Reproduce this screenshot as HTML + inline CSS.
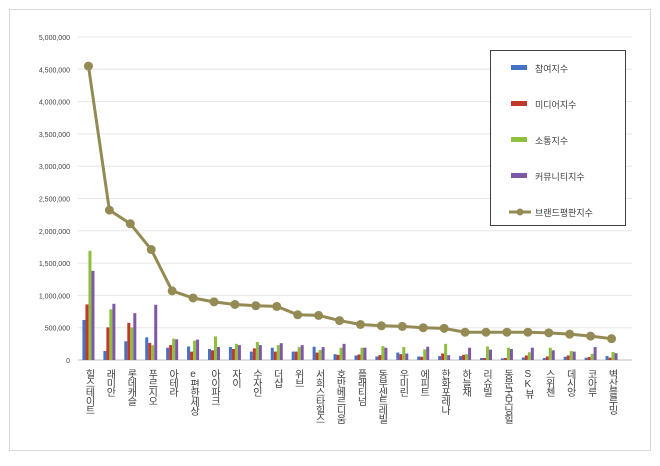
<!DOCTYPE html>
<html><head><meta charset="utf-8"><style>
html,body{margin:0;padding:0;background:#fff;}
svg text{font-family:"Liberation Sans","Noto Sans CJK KR",sans-serif;}
</style></head><body>
<svg id="chart" width="660" height="461" viewBox="0 0 660 461" xmlns="http://www.w3.org/2000/svg">
<rect x="9.5" y="9.5" width="641" height="441" fill="#fff" stroke="#d9d9d9"/>
<g id="grid"></g>
<g id="yaxis"></g>
<g id="bars"></g>
<g id="line"></g>
<g id="xaxis"></g>
<g id="legend"></g>
</svg>
<script>
const categories=["힐스테이트","래미안","롯데캐슬","푸르지오","아테라","e편한세상","아이파크","자이","수자인","더샵","위브","서희스타힐스","호반베르디움","플래티넘","동부센트레빌","우미린","에피트","한화포레나","하늘채","리슈빌","동문굿모닝힐","SK뷰","스위첸","데시앙","코아루","벽산블루밍"];
const participation=[620000,140000,290000,350000,190000,210000,170000,200000,130000,190000,130000,205000,90000,70000,55000,115000,55000,60000,60000,30000,25000,40000,30000,50000,35000,60000];
const media=[860000,505000,575000,265000,230000,130000,150000,170000,180000,130000,130000,115000,80000,85000,75000,90000,50000,100000,80000,30000,30000,70000,55000,70000,45000,35000];
const communication=[1690000,785000,505000,230000,330000,300000,365000,250000,280000,230000,200000,155000,190000,190000,215000,200000,165000,250000,90000,210000,190000,120000,190000,140000,95000,125000];
const community=[1380000,870000,725000,855000,320000,315000,200000,230000,230000,260000,230000,200000,250000,190000,190000,100000,205000,75000,190000,160000,170000,190000,150000,130000,200000,105000];
const brandIndex=[4550000,2320000,2110000,1710000,1070000,960000,900000,860000,840000,830000,700000,690000,610000,550000,530000,520000,500000,490000,430000,430000,430000,430000,420000,400000,370000,330000];
const yTicks=[0,500000,1000000,1500000,2000000,2500000,3000000,3500000,4000000,4500000,5000000];
const seriesNames=["참여지수","미디어지수","소통지수","커뮤니티지수","브랜드평판지수"];
const colors=["#4472c4","#c0392b","#8fbf3f","#7e57a6","#948a54"];
const NS="http://www.w3.org/2000/svg";
const X0=78,X1=622,Y0=360,Y1=37,YMAX=5000000;
const step=(X1-X0)/categories.length;
function xc(i){return X0+step*(i+0.5);}
function y(v){return Y0-(v/YMAX)*(Y0-Y1);}
function mk(tag,attrs,parent){const e=document.createElementNS(NS,tag);for(const k in attrs)e.setAttribute(k,attrs[k]);parent.appendChild(e);return e;}
const grid=document.getElementById('grid'),ya=document.getElementById('yaxis');
yTicks.forEach(t=>{
 const l=mk('line',{x1:X0,x2:632,y1:y(t),y2:y(t),stroke:t===0?'#bfbfbf':'#e6e6e6','stroke-width':1},grid);
 
 
 const tx=mk('text',{x:70,y:y(t)+3,'text-anchor':'end','font-size':7,fill:'#404040'},ya);
 tx.textContent=t.toLocaleString('en-US');
 
 
});
const bars=document.getElementById('bars');
const series=[participation,media,communication,community];
const bw=3;
categories.forEach((c,i)=>{
 series.forEach((s,k)=>{
  const r=mk('rect',{x:xc(i)-2*bw+k*bw,y:y(s[i]),width:bw,height:Y0-y(s[i]),fill:colors[k]},bars);
  
  
 });
});
const lg=document.getElementById('line');
const pts=brandIndex.map((v,i)=>xc(i)+','+y(v)).join(' ');
const pl=mk('polyline',{points:pts,fill:'none',stroke:colors[4],'stroke-width':3},lg);


brandIndex.forEach((v,i)=>{
 const c=mk('circle',{cx:xc(i),cy:y(v),r:4.5,fill:colors[4]},lg);
 
 
});
const xa=document.getElementById('xaxis');
categories.forEach((c,i)=>{
 const t=mk('text',{x:xc(i),y:369,'font-size':10,fill:'#404040',style:'writing-mode:vertical-rl;text-orientation:upright;letter-spacing:-1px'},xa);
 t.textContent=c;
 
 
});
const leg=document.getElementById('legend');
const box=mk('rect',{x:490.5,y:50.5,width:135,height:175,fill:'#fff',stroke:'#404040'},leg);


seriesNames.forEach((n,k)=>{
 const yy=68+k*36;
 const g=mk('g',{},leg);
 
 
 if(k<4){mk('rect',{x:511,y:yy-3,width:16,height:5,fill:colors[k]},g);}
 else{mk('line',{x1:509,x2:531,y1:yy,y2:yy,stroke:colors[4],'stroke-width':3},g);mk('circle',{cx:520,cy:yy,r:3.5,fill:colors[4]},g);}
 const t=mk('text',{x:535,y:yy+4,'font-size':9,fill:'#404040'},g);
 t.textContent=n;
});
</script>
</body></html>
